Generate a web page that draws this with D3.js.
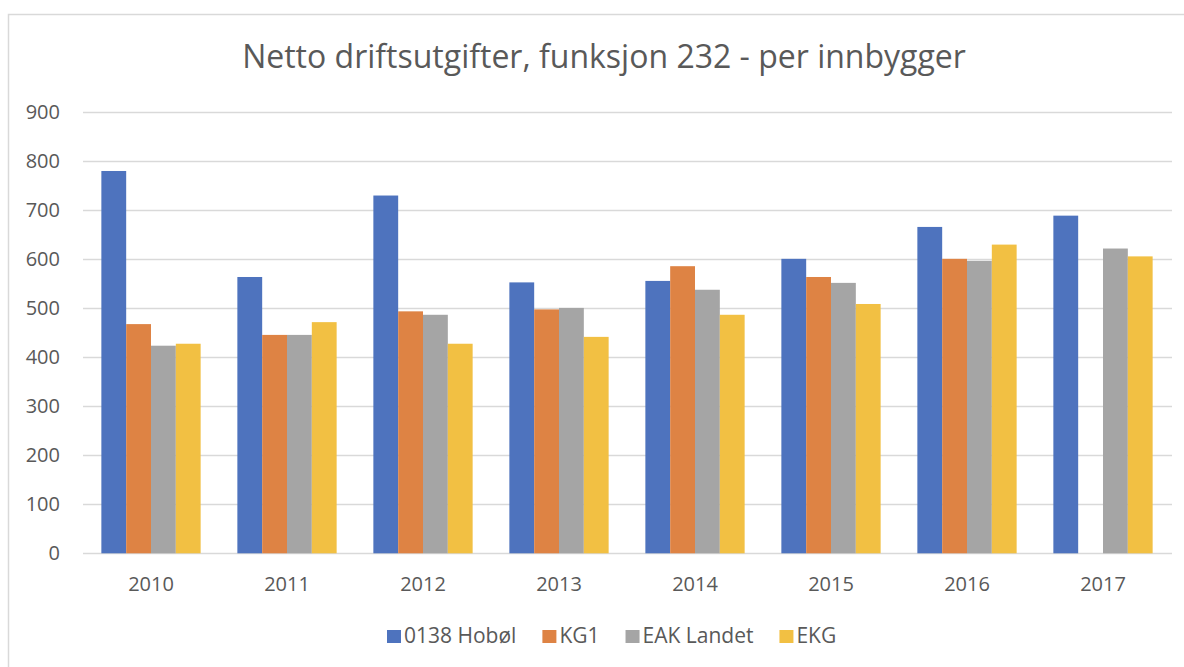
<!DOCTYPE html>
<html>
<head>
<meta charset="utf-8">
<script src="https://cdn.jsdelivr.net/npm/d3@7"></script>
<style>
  body { margin: 0; background: #fff; }
  text { font-family: "Open Sans", sans-serif; fill: #595959; }
</style>
</head>
<body>
<div id="chart"></div>
<script>
// Netto driftsutgifter, funksjon 232 - per innbygger
const years = ["2010", "2011", "2012", "2013", "2014", "2015", "2016", "2017"];
const seriesNames = ["0138 Hobøl", "KG1", "EAK Landet", "EKG"];
const hobol = [779, 563, 729, 552, 555, 600, 665, 688];
const kg1 = [467, 445, 493, 497, 585, 563, 600, null];
const eakLandet = [423, 445, 486, 500, 537, 551, 596, 621];
const ekg = [427, 471, 427, 441, 486, 508, 629, 605];
const yTicks = [0, 100, 200, 300, 400, 500, 600, 700, 800, 900];
const colors = ["#4e73be", "#de8344", "#a5a5a5", "#f2c043"];

const allSeries = [hobol, kg1, eakLandet, ekg];

const width = 1184, height = 667;
const svg = d3.select("#chart")
  .append("svg")
  .attr("width", width)
  .attr("height", height);

// chart border
svg.append("rect")
  .attr("x", 8.5)
  .attr("y", 14.5)
  .attr("width", 1200)
  .attr("height", 700)
  .attr("fill", "#fff")
  .attr("stroke", "#d9d9d9")
  .attr("stroke-width", 1.5);

svg.append("text")
  .attr("x", 604)
  .attr("y", 68)
  .attr("text-anchor", "middle")
  .style("font-size", "32px")
  .text("Netto driftsutgifter, funksjon 232 - per innbygger");

const x = d3.scaleBand()
  .domain(years)
  .range([83, 1171])
  .paddingInner(0.27)
  .paddingOuter(0.135);

const xInner = d3.scaleBand()
  .domain(seriesNames)
  .range([0, x.bandwidth()]);

const y = d3.scaleLinear()
  .domain([0, 900])
  .range([553.3, 111.6]);

// gridlines
svg.append("g")
  .selectAll("line")
  .data(yTicks)
  .enter()
  .append("line")
  .attr("x1", 83)
  .attr("x2", 1172)
  .attr("y1", d => Math.round(y(d)) + 0.5)
  .attr("y2", d => Math.round(y(d)) + 0.5)
  .attr("stroke", "#d9d9d9")
  .attr("stroke-width", 1.5);

// y labels
svg.append("g")
  .selectAll("text")
  .data(yTicks)
  .enter()
  .append("text")
  .attr("x", 60)
  .attr("y", d => y(d) + 7)
  .attr("text-anchor", "end")
  .style("font-size", "20px")
  .text(d => d);

// bars
const groups = svg.append("g")
  .selectAll("g")
  .data(years)
  .enter()
  .append("g")
  .attr("transform", d => `translate(${x(d)},0)`);

groups.selectAll("rect")
  .data((d, i) => seriesNames.map((s, j) => ({series: s, value: allSeries[j][i], color: colors[j]})))
  .enter()
  .filter(d => d.value != null)
  .append("rect")
  .attr("x", d => xInner(d.series))
  .attr("width", xInner.bandwidth())
  .attr("y", d => y(d.value))
  .attr("height", d => y(0) - y(d.value))
  .attr("fill", d => d.color);

// x labels
svg.append("g")
  .selectAll("text")
  .data(years)
  .enter()
  .append("text")
  .attr("x", d => x(d) + x.bandwidth() / 2)
  .attr("y", 591)
  .attr("text-anchor", "middle")
  .style("font-size", "20px")
  .text(d => d);

// legend
const legend = svg.append("g");
let lx = 387;
seriesNames.forEach((name, i) => {
  legend.append("rect")
    .attr("x", lx)
    .attr("y", 630)
    .attr("width", 14)
    .attr("height", 13)
    .attr("fill", colors[i]);
  const t = legend.append("text")
    .attr("x", lx + 17)
    .attr("y", 643)
    .style("font-size", "21px")
    .text(name);
  lx += 17 + t.node().getComputedTextLength() + 26;
});
</script>
</body>
</html>
